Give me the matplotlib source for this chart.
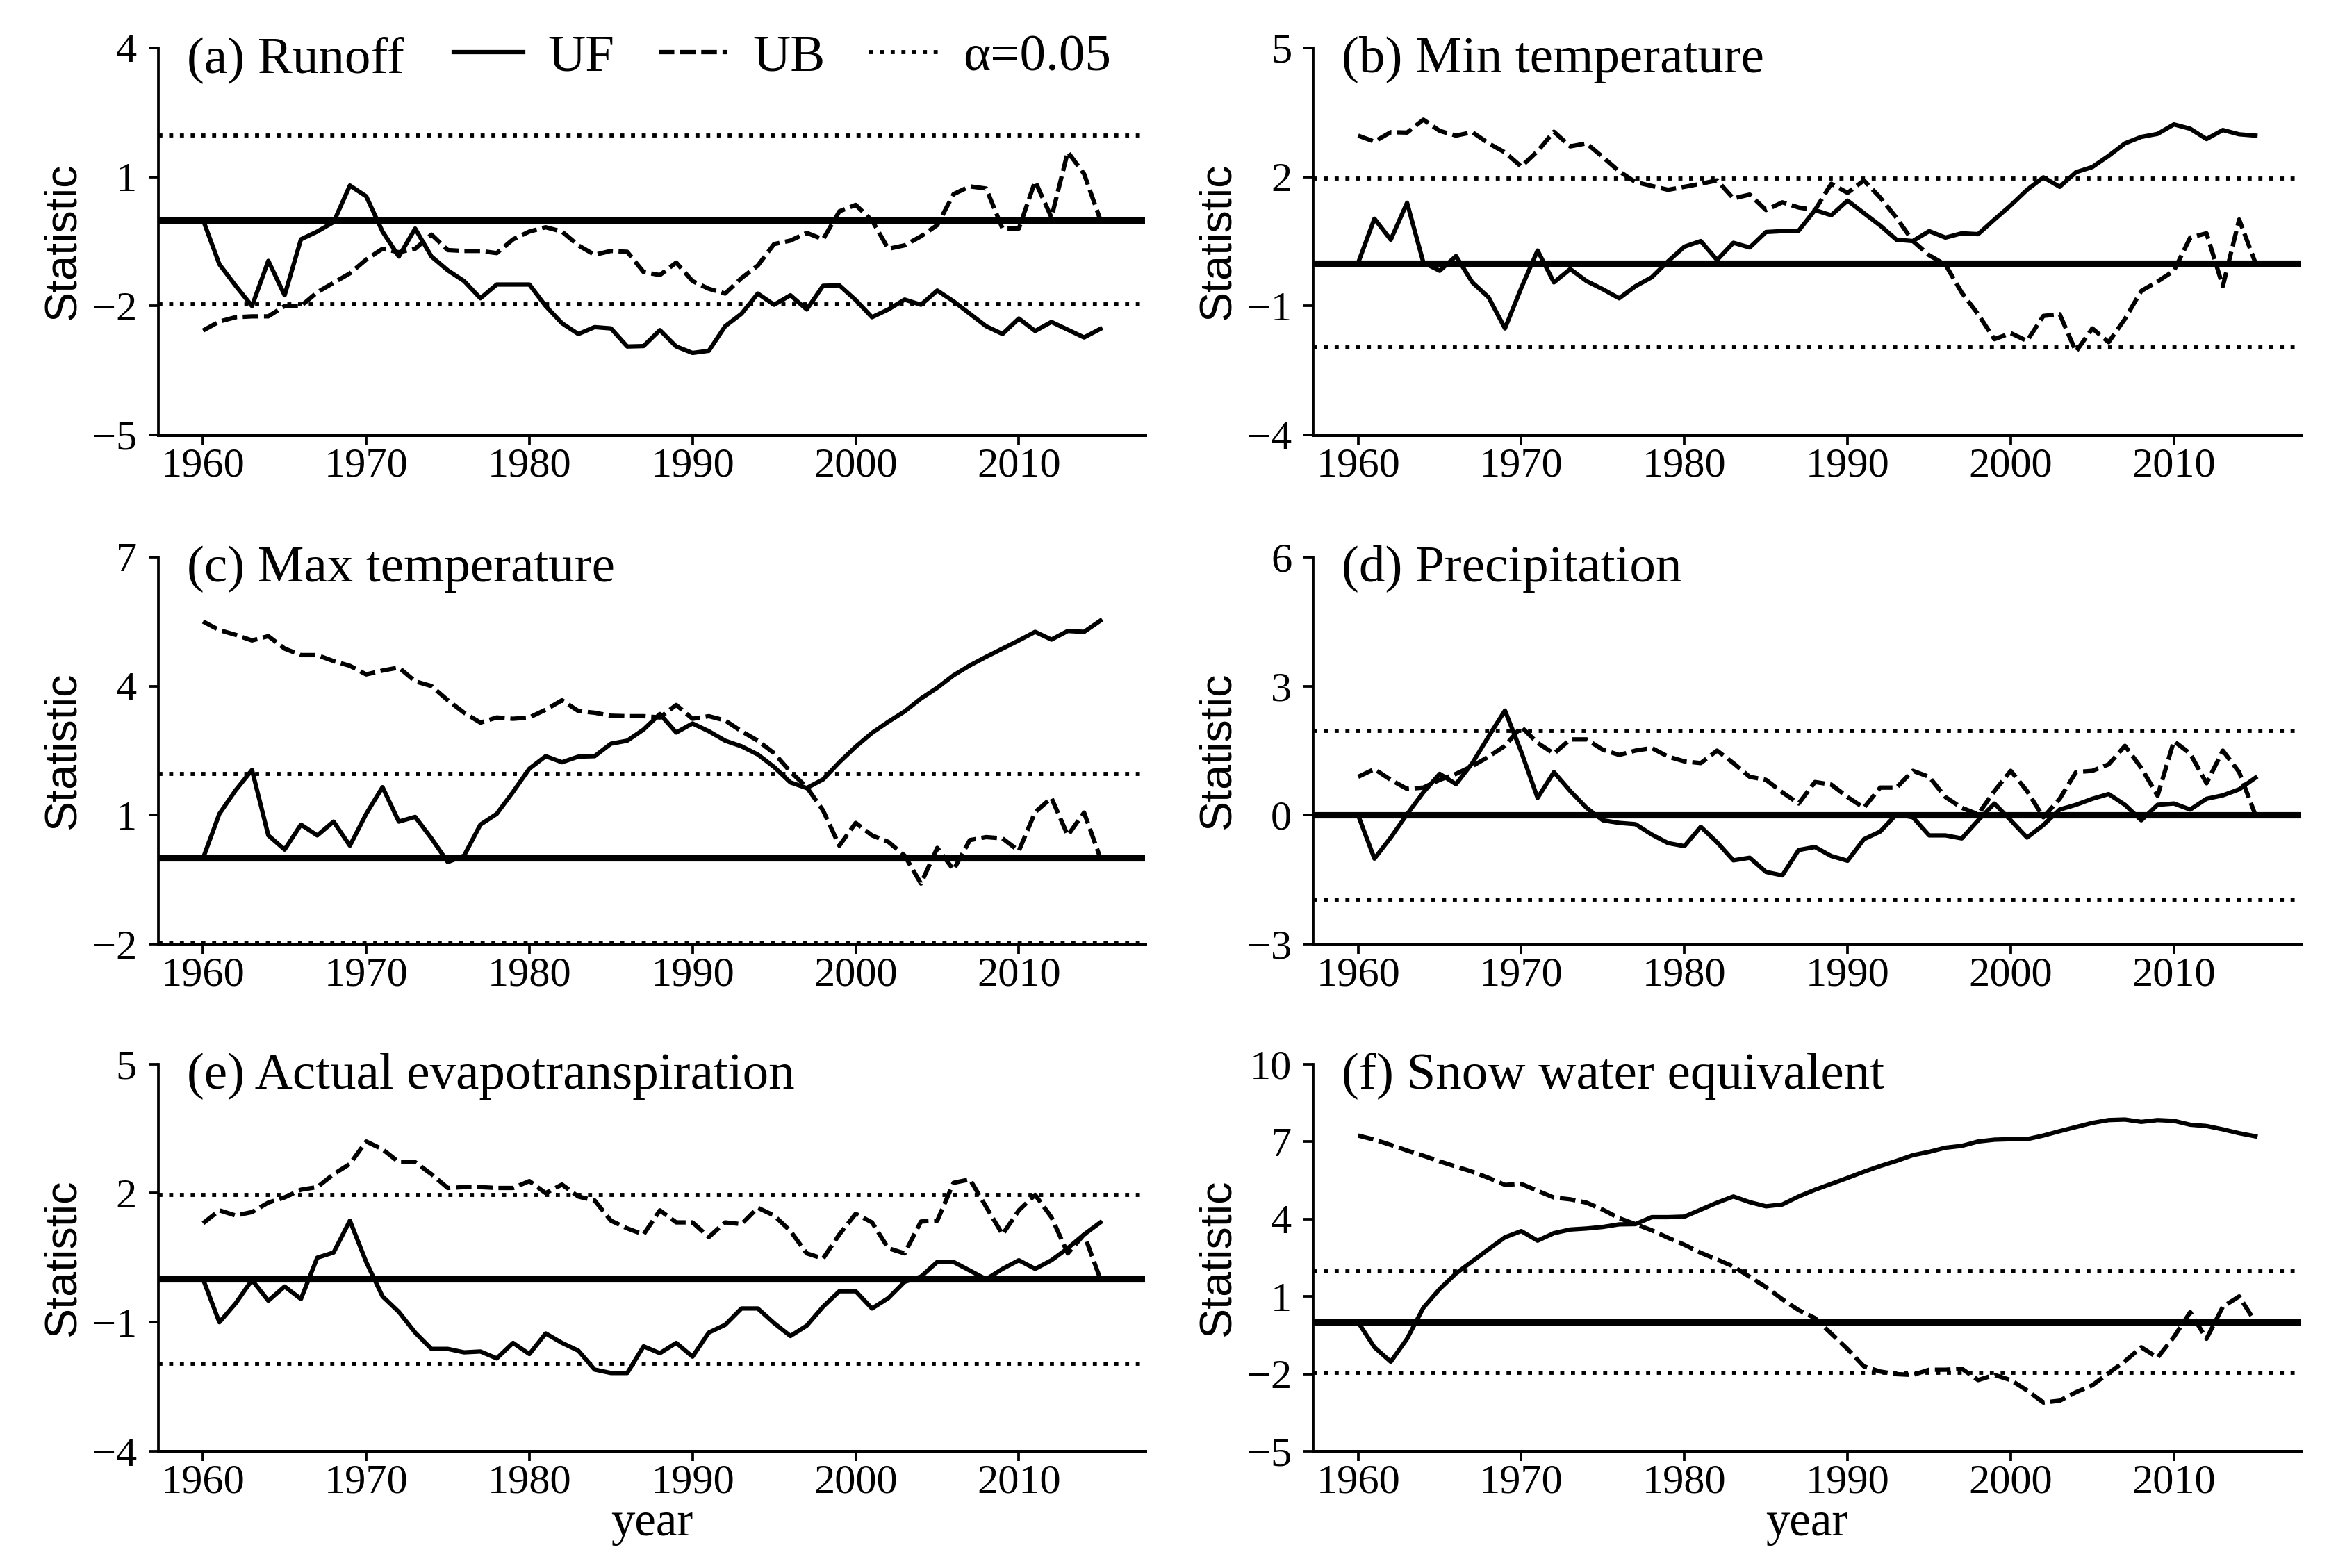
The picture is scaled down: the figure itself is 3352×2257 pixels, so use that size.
import numpy as np
import matplotlib
matplotlib.use("Agg")
import matplotlib.pyplot as plt
from matplotlib.lines import Line2D

# Mann-Kendall UF / UB statistics, 1960-2015
years = np.arange(1960, 2016)

uf_runoff = [0, -1.03, -1.53, -2.0, -0.95, -1.75, -0.45, -0.27, -0.05, 0.8,
             0.55, -0.27, -0.85, -0.2, -0.85, -1.17, -1.42, -1.82, -1.5, -1.5,
             -1.5, -2.0, -2.4, -2.65, -2.49, -2.52, -2.94, -2.93, -2.56, -2.94,
             -3.09, -3.04, -2.47, -2.18, -1.71, -1.97, -1.75, -2.08, -1.53, -1.52,
             -1.86, -2.26, -2.08, -1.85, -1.97, -1.64, -1.89, -2.18, -2.47, -2.65,
             -2.29, -2.58, -2.37, -2.55, -2.73, -2.53]
ub_runoff = [-2.57, -2.36, -2.26, -2.24, -2.24, -2.0, -2.0, -1.68, -1.46, -1.24,
             -0.92, -0.67, -0.75, -0.67, -0.34, -0.7, -0.72, -0.72, -0.77, -0.45,
             -0.27, -0.17, -0.27, -0.59, -0.81, -0.72, -0.74, -1.21, -1.28, -0.99,
             -1.42, -1.6, -1.71, -1.35, -1.06, -0.56, -0.48, -0.3, -0.45, 0.2,
             0.35, -0.01, -0.67, -0.59, -0.38, -0.12, 0.6, 0.78, 0.73, -0.2,
             -0.2, 0.9, 0.06, 1.58, 1.07, 0]

uf_tmin = [0, 1.03, 0.54, 1.4, 0.01, -0.18, 0.16, -0.45, -0.8, -1.52,
           -0.58, 0.29, -0.45, -0.14, -0.42, -0.61, -0.82, -0.54, -0.33, 0.04,
           0.38, 0.51, 0.07, 0.47, 0.36, 0.72, 0.74, 0.75, 1.23, 1.11,
           1.45, 1.16, 0.87, 0.54, 0.51, 0.74, 0.59, 0.69, 0.67, 1.01,
           1.34, 1.7, 1.99, 1.77, 2.11, 2.23, 2.49, 2.78, 2.93, 3.0,
           3.22, 3.12, 2.88, 3.09, 2.99, 2.96]
ub_tmin = [2.96, 2.82, 3.04, 3.03, 3.33, 3.07, 2.96, 3.04, 2.78, 2.57,
           2.24, 2.6, 3.05, 2.71, 2.78, 2.46, 2.13, 1.88, 1.79, 1.7,
           1.77, 1.84, 1.92, 1.5, 1.59, 1.23, 1.41, 1.29, 1.23, 1.84,
           1.63, 1.92, 1.52, 1.05, 0.51, 0.18, -0.04, -0.69, -1.19, -1.77,
           -1.63, -1.81, -1.23, -1.19, -2.06, -1.52, -1.84, -1.3, -0.65, -0.43,
           -0.18, 0.59, 0.69, -0.54, 1.01, 0]

uf_tmax = [0, 1.03, 1.58, 2.05, 0.53, 0.2, 0.78, 0.53, 0.85, 0.29,
           1.03, 1.65, 0.85, 0.96, 0.46, -0.09, 0.06, 0.78, 1.03, 1.54,
           2.08, 2.37, 2.23, 2.36, 2.37, 2.66, 2.73, 2.99, 3.35, 2.92,
           3.13, 2.95, 2.73, 2.6, 2.41, 2.12, 1.76, 1.63, 1.83, 2.23,
           2.59, 2.91, 3.17, 3.41, 3.71, 3.96, 4.25, 4.48, 4.68, 4.87,
           5.06, 5.26, 5.08, 5.28, 5.26, 5.52]
ub_tmax = [5.5, 5.3, 5.19, 5.06, 5.16, 4.87, 4.72, 4.72, 4.58, 4.47,
           4.27, 4.36, 4.43, 4.11, 4.0, 3.67, 3.38, 3.15, 3.27, 3.24,
           3.27, 3.45, 3.67, 3.42, 3.38, 3.31, 3.3, 3.3, 3.27, 3.56,
           3.24, 3.3, 3.2, 2.95, 2.73, 2.44, 2.01, 1.65, 1.11, 0.29,
           0.82, 0.53, 0.38, 0.06, -0.59, 0.24, -0.27, 0.42, 0.49, 0.46,
           0.17, 1.07, 1.4, 0.53, 1.06, 0]

uf_prec = [0, -1.01, -0.52, 0.02, 0.53, 0.96, 0.72, 1.21, 1.83, 2.43,
           1.47, 0.4, 1.0, 0.56, 0.17, -0.12, -0.18, -0.21, -0.45, -0.65,
           -0.72, -0.27, -0.63, -1.05, -0.99, -1.32, -1.4, -0.81, -0.74, -0.95,
           -1.06, -0.56, -0.38, 0.02, -0.05, -0.47, -0.47, -0.54, -0.12, 0.27,
           -0.12, -0.52, -0.23, 0.13, 0.24, 0.38, 0.49, 0.24, -0.12, 0.24,
           0.27, 0.13, 0.38, 0.46, 0.6, 0.87]
ub_prec = [0.89, 1.07, 0.82, 0.61, 0.64, 0.82, 0.96, 1.14, 1.36, 1.61,
           2.05, 1.68, 1.43, 1.76, 1.76, 1.52, 1.4, 1.5, 1.56, 1.36,
           1.25, 1.21, 1.5, 1.21, 0.89, 0.82, 0.53, 0.27, 0.77, 0.71,
           0.42, 0.17, 0.64, 0.64, 1.03, 0.89, 0.42, 0.17, 0.02, 0.56,
           1.03, 0.56, -0.05, 0.38, 1.0, 1.03, 1.18, 1.61, 1.1, 0.45,
           1.72, 1.43, 0.74, 1.5, 1.0, 0]

uf_aet = [0, -1.0, -0.56, -0.02, -0.5, -0.17, -0.46, 0.5, 0.62, 1.36,
          0.4, -0.4, -0.76, -1.24, -1.62, -1.62, -1.7, -1.68, -1.84, -1.48,
          -1.74, -1.26, -1.48, -1.66, -2.1, -2.18, -2.18, -1.56, -1.72, -1.48,
          -1.8, -1.24, -1.06, -0.68, -0.68, -1.02, -1.32, -1.08, -0.64, -0.28,
          -0.28, -0.68, -0.44, -0.06, 0.06, 0.4, 0.4, 0.2, 0.0, 0.24,
          0.44, 0.24, 0.44, 0.72, 1.04, 1.32]
ub_aet = [1.3, 1.6, 1.48, 1.56, 1.78, 1.9, 2.08, 2.14, 2.44, 2.68,
          3.2, 3.02, 2.72, 2.72, 2.44, 2.12, 2.14, 2.14, 2.12, 2.12,
          2.28, 2.0, 2.2, 1.92, 1.83, 1.36, 1.18, 1.04, 1.6, 1.32,
          1.32, 0.98, 1.32, 1.28, 1.66, 1.48, 1.12, 0.6, 0.48, 1.04,
          1.52, 1.32, 0.72, 0.6, 1.34, 1.36, 2.24, 2.32, 1.68, 1.04,
          1.6, 1.96, 1.44, 0.6, 1.04, 0]

uf_swe = [0, -0.97, -1.53, -0.64, 0.56, 1.29, 1.89, 2.36, 2.83, 3.29,
          3.53, 3.16, 3.45, 3.59, 3.63, 3.69, 3.79, 3.8, 4.07, 4.07,
          4.09, 4.36, 4.63, 4.87, 4.65, 4.49, 4.56, 4.87, 5.13, 5.36,
          5.59, 5.83, 6.05, 6.25, 6.47, 6.6, 6.76, 6.83, 7.0, 7.07,
          7.09, 7.09, 7.23, 7.4, 7.56, 7.72, 7.83, 7.85, 7.76, 7.83,
          7.8, 7.65, 7.6, 7.47, 7.32, 7.2]
ub_swe = [7.23, 7.07, 6.87, 6.65, 6.45, 6.23, 6.03, 5.83, 5.59, 5.32,
          5.36, 5.09, 4.83, 4.76, 4.63, 4.36, 4.03, 3.8, 3.56, 3.27,
          3.0, 2.69, 2.43, 2.16, 1.76, 1.36, 0.89, 0.47, 0.16, -0.44,
          -1.04, -1.71, -1.91, -2.01, -2.04, -1.84, -1.84, -1.8, -2.24, -2.04,
          -2.24, -2.64, -3.11, -3.04, -2.71, -2.44, -1.97, -1.51, -0.97, -1.37,
          -0.57, 0.39, -0.64, 0.6, 1.0, 0]

titles = ["(a) Runoff", "(b) Min temperature", "(c) Max temperature",
          "(d) Precipitation", "(e) Actual evapotranspiration",
          "(f) Snow water equivalent"]
uf_all = [uf_runoff, uf_tmin, uf_tmax, uf_prec, uf_aet, uf_swe]
ub_all = [ub_runoff, ub_tmin, ub_tmax, ub_prec, ub_aet, ub_swe]
y_ticks = [[-5, -2, 1, 4], [-4, -1, 2, 5], [-2, 1, 4, 7],
           [-3, 0, 3, 6], [-4, -1, 2, 5], [-5, -2, 1, 4, 7, 10]]
crit = 1.96

plt.rcParams["font.family"] = ["Liberation Serif", "DejaVu Serif"]
plt.rcParams["font.size"] = 14.5

dotted = (0, (1, 1.65))
dashed = (0, (3.6, 1.3))

fig = plt.figure(figsize=(3353 / 300, 2257 / 300), dpi=300)

lefts = [0.0679, 0.5637]
bottoms = [0.7225, 0.3978, 0.0744]
w, h = 0.4237, 0.247

for i in range(6):
    row, col = i // 2, i % 2
    ax = fig.add_axes([lefts[col], bottoms[row], w, h])
    ax.axhline(0, color="black", lw=2.2)
    ax.axhline(crit, color="black", lw=1.4, ls=dotted)
    ax.axhline(-crit, color="black", lw=1.4, ls=dotted)
    ax.plot(years, uf_all[i], color="black", lw=1.5, label="UF")
    ax.plot(years, ub_all[i], color="black", lw=1.5, ls=dashed, label="UB")

    ax.set_ylim(y_ticks[i][0], y_ticks[i][-1])
    ax.set_yticks(y_ticks[i])
    ax.set_xticks([1960, 1970, 1980, 1990, 2000, 2010])
    ax.spines["top"].set_visible(False)
    ax.spines["right"].set_visible(False)
    ax.spines["left"].set_linewidth(0.9)
    ax.spines["bottom"].set_linewidth(1.2)
    ax.tick_params(length=3.4, width=0.9, labelsize=14.5)
    ax.tick_params(axis="x", pad=1)
    ax.tick_params(axis="y", pad=4)
    ax.set_ylabel("Statistic", family="Liberation Sans", fontsize=15.5, labelpad=3)
    ax.text(0.029, 0.937, titles[i], transform=ax.transAxes,
            va="baseline", ha="left", fontsize=18)
    if row == 2:
        ax.set_xlabel("year", fontsize=16.5, labelpad=0)
    if i == 0:
        handles = [Line2D([], [], color="black", lw=1.5),
                   Line2D([], [], color="black", lw=1.5, ls=dashed),
                   Line2D([], [], color="black", lw=1.4, ls=dotted)]
        ax.legend(handles, ["UF", "UB", "α=0.05"], ncol=3, frameon=False,
                  loc="center right", bbox_to_anchor=(0.9655, 0.975),
                  handlelength=1.33, handletextpad=0.48, columnspacing=0.84,
                  fontsize=18, borderaxespad=0, borderpad=0)

fig.savefig("out.png", dpi=300)
